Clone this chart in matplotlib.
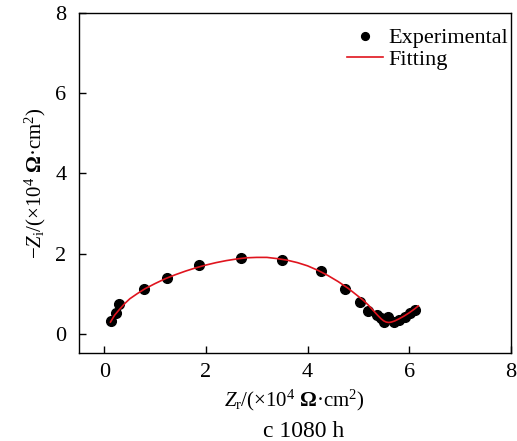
import matplotlib.pyplot as plt

plt.rcParams['font.family'] = ['Liberation Serif', 'DejaVu Serif']
plt.rcParams['mathtext.fontset'] = 'custom'
plt.rcParams['mathtext.rm'] = 'Liberation Serif'
plt.rcParams['mathtext.it'] = 'Liberation Serif:italic'
plt.rcParams['mathtext.bf'] = 'Liberation Serif:bold'

# experimental points (Zr, -Zi), x10^4 ohm cm^2
exp_zr = [0.13, 0.22, 0.29, 0.78, 1.24, 1.87, 2.69, 3.50, 4.27, 4.73, 5.03, 5.19,
          5.36, 5.45, 5.51, 5.58, 5.71, 5.81, 5.91, 6.01, 6.11]
exp_zi = [0.33, 0.52, 0.76, 1.12, 1.40, 1.71, 1.89, 1.84, 1.58, 1.12, 0.80, 0.58,
          0.47, 0.39, 0.31, 0.43, 0.29, 0.35, 0.43, 0.52, 0.61]

# fitted curve
fit_zr = [0.12, 0.2, 0.3, 0.4, 0.5, 0.65, 0.8, 1.0, 1.2, 1.4, 1.6, 1.8, 2.0, 2.2, 2.4,
          2.6, 2.8, 3.0, 3.2, 3.4, 3.6, 3.8, 4.0, 4.2, 4.4, 4.6, 4.8, 4.95, 5.1, 5.2,
          5.3, 5.38, 5.45, 5.5, 5.55, 5.6, 5.65, 5.72, 5.8, 5.9, 6.0, 6.1, 6.18]
fit_zi = [0.30, 0.47, 0.62, 0.76, 0.88, 1.01, 1.13, 1.26, 1.38, 1.48, 1.57, 1.65, 1.72,
          1.78, 1.83, 1.87, 1.90, 1.91, 1.91, 1.88, 1.84, 1.78, 1.70, 1.59, 1.46, 1.31,
          1.14, 0.99, 0.84, 0.72, 0.58, 0.47, 0.38, 0.33, 0.30, 0.29, 0.30, 0.33, 0.38,
          0.45, 0.53, 0.62, 0.70]

fig = plt.figure(figsize=(5.17, 4.41), dpi=100)
ax = fig.add_axes([0.1528, 0.1995, 0.835, 0.7717])

ax.plot(exp_zr, exp_zi, 'o', color='black', markersize=7, label='Experimental', zorder=3)
ax.plot(fit_zr, fit_zi, '-', color='#e0141e', linewidth=1.2, label='Fitting', zorder=4)

ax.set_xlim(-0.5, 8)
ax.set_ylim(-0.47, 8)
ax.set_xticks([0, 2, 4, 6, 8])
ax.set_yticks([0, 2, 4, 6, 8])
ax.tick_params(direction='in', length=5, width=1, labelsize=16)
ax.tick_params(axis='y', pad=9)
ax.tick_params(axis='x', pad=7)
for s in ax.spines.values():
    s.set_linewidth(1)

ax.set_xlabel(r'$Z_\mathrm{r}$/(×10$^4$ $\mathbf{\Omega}$·cm$^2$)', fontsize=15, labelpad=4)
ax.set_ylabel(r'$-Z_\mathrm{i}$/(×10$^4$ $\mathbf{\Omega}$·cm$^2$)', fontsize=15, labelpad=5)

leg = ax.legend(loc='upper right', bbox_to_anchor=(1.02, 0.988), frameon=False,
                fontsize=16, handlelength=1.6, handletextpad=0.25, borderaxespad=0.1,
                labelspacing=0.05, markerscale=0.8)

fig.text(0.588, 0.008, 'c 1080 h', ha='center', va='baseline', fontsize=17)

fig.savefig('out.png', dpi=100)
